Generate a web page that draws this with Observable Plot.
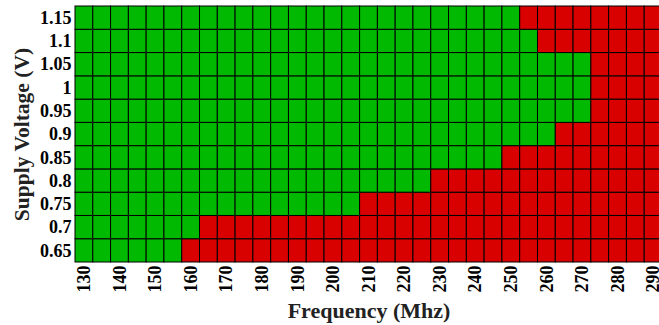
<!DOCTYPE html>
<html>
<head>
<meta charset="utf-8">
<script src="https://cdn.jsdelivr.net/npm/d3@7"></script>
<script src="https://cdn.jsdelivr.net/npm/@observablehq/plot@0.6"></script>
<style>
  html, body { margin: 0; padding: 0; overflow: hidden; background: #fff; }
  #chart svg { max-width: none !important; }
  #chart svg, #chart svg text { font-family: "Liberation Serif", "Times New Roman", serif !important; font-weight: bold; }
</style>
</head>
<body>
<div id="chart"></div>
<script>
const frequencies = [130,135,140,145,150,155,160,165,170,175,180,185,190,195,200,205,210,215,220,225,230,235,240,245,250,255,260,265,270,275,280,285,290];
const xTickLabels = [130,140,150,160,170,180,190,200,210,220,230,240,250,260,270,280,290];
const voltages = [0.65,0.7,0.75,0.8,0.85,0.9,0.95,1,1.05,1.1,1.15];
// highest passing frequency (MHz) at each voltage
const maxPassFreq = [155,160,205,225,245,260,270,270,270,255,250];
const statusColors = ["#00b900", "#d90000"];
const statusNames = ["pass", "fail"];

const cells = [];
voltages.forEach((v, i) => {
  frequencies.forEach(f => {
    cells.push({f, v, status: f <= maxPassFreq[i] ? "pass" : "fail"});
  });
});

const chart = Plot.plot({
  width: 662,
  height: 325,
  marginLeft: 75,
  marginRight: 0,
  marginTop: 6,
  marginBottom: 63,
  style: "font-family: 'Liberation Serif', serif; font-weight: bold; font-size: 18px; color: #000; background: #fff;",
  x: {type: "band", domain: frequencies, padding: 0, round: false, label: null},
  y: {type: "band", domain: voltages.slice().reverse(), padding: 0, round: false, label: null},
  color: {domain: statusNames, range: statusColors},
  marks: [
    Plot.cell(cells, {x: "f", y: "v", fill: "status", stroke: "#000", strokeWidth: 1, inset: 0}),
    Plot.axisX({ticks: xTickLabels, tickSize: 0, tickPadding: 3, tickRotate: -90, label: null, fontSize: 18, fill: "#000"}),
    Plot.axisY({tickSize: 0, tickPadding: 4, label: null, fontSize: 18, fill: "#000"}),
    Plot.text(["Supply Voltage (V)"], {text: d => d, frameAnchor: "left", textAnchor: "middle", rotate: -90, dx: -53, fontSize: 21.5, fontWeight: "bold", fill: "#222"}),
    Plot.text(["Frequency (Mhz)"], {text: d => d, frameAnchor: "bottom", textAnchor: "middle", dy: 55, fontSize: 22, fontWeight: "bold", fill: "#222"})
  ]
});
document.getElementById("chart").appendChild(chart);
</script>
</body>
</html>
